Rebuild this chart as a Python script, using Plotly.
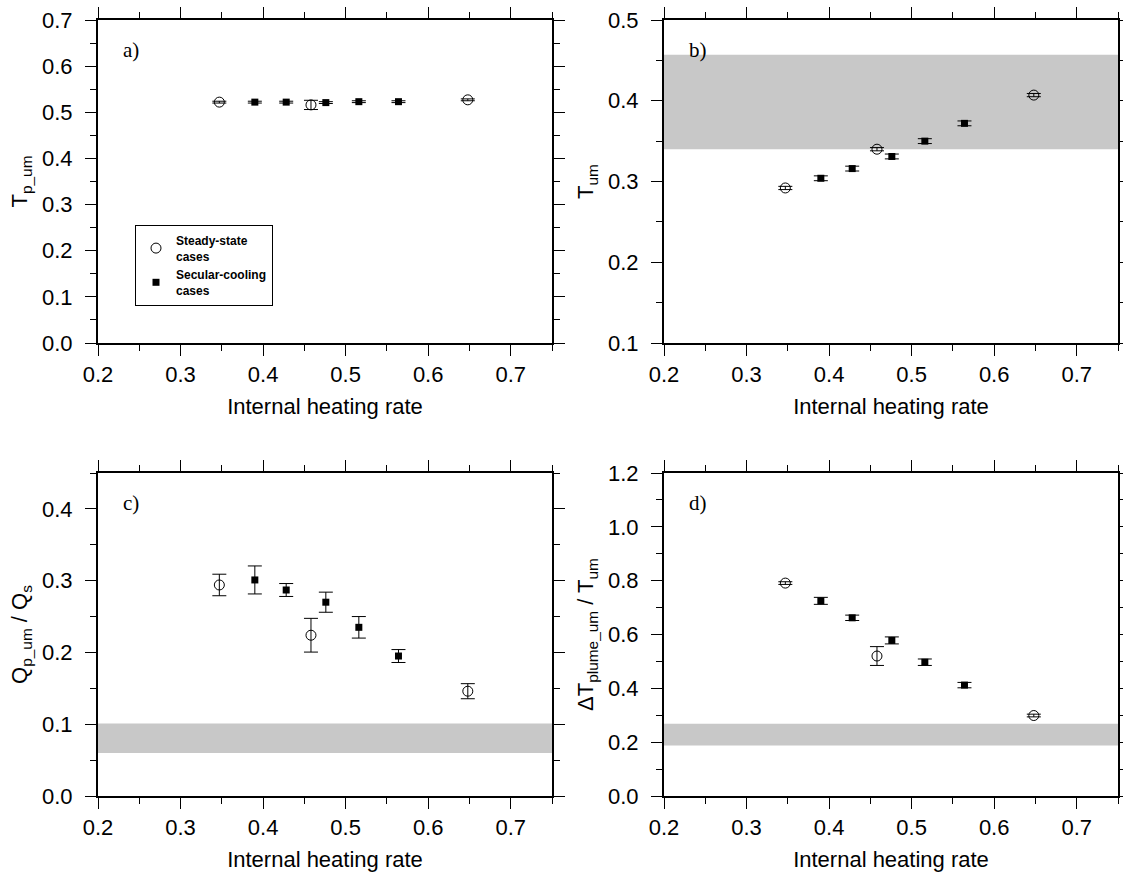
import plotly.graph_objects as go

# ---------------- data ----------------
x_steady = [0.347, 0.458, 0.648]
x_secular = [0.390, 0.428, 0.476, 0.516, 0.564]

# a) T_p_um
a_steady = [0.522, 0.516, 0.527]
a_steady_err = [0.002, 0.010, 0.002]
a_secular = [0.522, 0.522, 0.521, 0.523, 0.523]
a_secular_err = [0.002, 0.002, 0.002, 0.002, 0.002]

# b) T_um
b_steady = [0.292, 0.340, 0.407]
b_steady_err = [0.002, 0.002, 0.002]
b_secular = [0.304, 0.316, 0.331, 0.350, 0.372]
b_secular_err = [0.003, 0.003, 0.003, 0.003, 0.003]
b_band = [0.340, 0.457]

# c) Q_p_um / Q_s
c_steady = [0.294, 0.224, 0.146]
c_steady_err = [0.015, 0.0235, 0.0105]
c_secular = [0.301, 0.287, 0.270, 0.235, 0.195]
c_secular_err = [0.0195, 0.009, 0.014, 0.015, 0.009]
c_band = [0.060, 0.101]

# d) dT_plume_um / T_um
d_steady = [0.791, 0.520, 0.299]
d_steady_err = [0.005, 0.035, 0.005]
d_secular = [0.725, 0.662, 0.578, 0.497, 0.412]
d_secular_err = [0.013, 0.010, 0.013, 0.012, 0.010]
d_band = [0.188, 0.268]

x_ticks = [0.2, 0.3, 0.4, 0.5, 0.6, 0.7]
panel_labels = ["a)", "b)", "c)", "d)"]
y_titles = ["T<sub>p_um</sub>", "T<sub>um</sub>",
            "Q<sub>p_um</sub> / Q<sub>s</sub>",
            "\u0394T<sub>plume_um</sub> / T<sub>um</sub>"]
y_ranges = [[0, 0.7], [0.1, 0.5], [0, 0.45], [0, 1.2]]
y_dticks = [(0.1, 0.05), (0.1, 0.05), (0.1, 0.05), (0.2, 0.1)]
legend_names = ["Steady-state<br>cases", "Secular-cooling<br>cases"]

# ---------------- layout geometry ----------------
W, H = 1123, 878
xdoms = [[98 / W, 552 / W], [664 / W, 1118 / W]]
ydoms = [[1 - 343 / H, 1 - 20 / H], [1 - 796 / H, 1 - 473 / H]]

fig = go.Figure()

panels = [
    (a_steady, a_steady_err, a_secular, a_secular_err, None),
    (b_steady, b_steady_err, b_secular, b_secular_err, b_band),
    (c_steady, c_steady_err, c_secular, c_secular_err, c_band),
    (d_steady, d_steady_err, d_secular, d_secular_err, d_band),
]

FONT = "Liberation Sans, Arial, Helvetica, sans-serif"

for i, (ys, yse, yc, yce, band) in enumerate(panels):
    n = i + 1
    xa = "x" if n == 1 else f"x{n}"
    ya = "y" if n == 1 else f"y{n}"
    errstyle = dict(type="data", visible=True, color="black", thickness=1, width=7)
    fig.add_trace(go.Scatter(
        x=x_steady, y=ys, mode="markers", xaxis=xa, yaxis=ya,
        name=legend_names[0], showlegend=(i == 0),
        marker=dict(symbol="circle-open", size=10, color="black", line=dict(width=1, color="black")),
        error_y=dict(array=yse, **errstyle),
    ))
    fig.add_trace(go.Scatter(
        x=x_secular, y=yc, mode="markers", xaxis=xa, yaxis=ya,
        name=legend_names[1], showlegend=(i == 0),
        marker=dict(symbol="square", size=7, color="black", line=dict(width=0)),
        error_y=dict(array=yce, **errstyle),
    ))
    if band is not None:
        fig.add_shape(type="rect", xref=f"{xa} domain", yref=ya,
                      x0=0, x1=1, y0=band[0], y1=band[1],
                      fillcolor="#c8c8c8", line=dict(width=0), layer="below")

    row, col = divmod(i, 2)
    common = dict(showline=True, linewidth=2, linecolor="black", mirror="ticks",
                  ticks="outside", ticklen=11, tickwidth=1.3, tickcolor="black",
                  showgrid=False, zeroline=False, automargin=False,
                  tickfont=dict(family=FONT, size=22, color="black"))
    xkey = "xaxis" if n == 1 else f"xaxis{n}"
    ykey = "yaxis" if n == 1 else f"yaxis{n}"
    fig.layout[xkey] = dict(
        domain=xdoms[col], anchor=ya, range=[0.2, 0.75],
        tickvals=x_ticks, tickformat=".1f", ticklabelstandoff=0,
        minor=dict(dtick=0.05, tick0=0, ticks="outside", ticklen=6, tickwidth=1.3,
                   tickcolor="black", showgrid=False),
        title=dict(text="Internal heating rate", standoff=12,
                   font=dict(family=FONT, size=22, color="black")),
        **common)
    major, minor = y_dticks[i]
    fig.layout[ykey] = dict(
        domain=ydoms[row], anchor=xa, range=y_ranges[i],
        dtick=major, tick0=0, tickformat=".1f", ticklabelstandoff=8,
        minor=dict(dtick=minor, tick0=0, ticks="outside", ticklen=6, tickwidth=1.3,
                   tickcolor="black", showgrid=False),
        title=dict(text=y_titles[i], standoff=8,
                   font=dict(family=FONT, size=22, color="black")),
        **common)
    fig.add_annotation(text=panel_labels[i], xref=f"{xa} domain", yref=f"{ya} domain",
                       x=0.05, y=1 - 30 / 323, xanchor="left", yanchor="middle",
                       showarrow=False,
                       font=dict(family="Liberation Serif, Times New Roman, serif", size=21, color="black"))

fig.update_layout(
    width=W, height=H, margin=dict(l=0, r=0, t=0, b=0, autoexpand=False),
    paper_bgcolor="white", plot_bgcolor="white",
    showlegend=True,
    legend=dict(x=135 / W, y=1 - 225 / H, xanchor="left", yanchor="top",
                bordercolor="black", borderwidth=1, bgcolor="white",
                font=dict(family=FONT, size=12, color="black", weight="bold"),
                itemwidth=30, tracegroupgap=0),
)

fig.write_html("out.html", config={"displayModeBar": False},
               post_script="document.body.style.margin='0';document.body.style.overflow='hidden';")
